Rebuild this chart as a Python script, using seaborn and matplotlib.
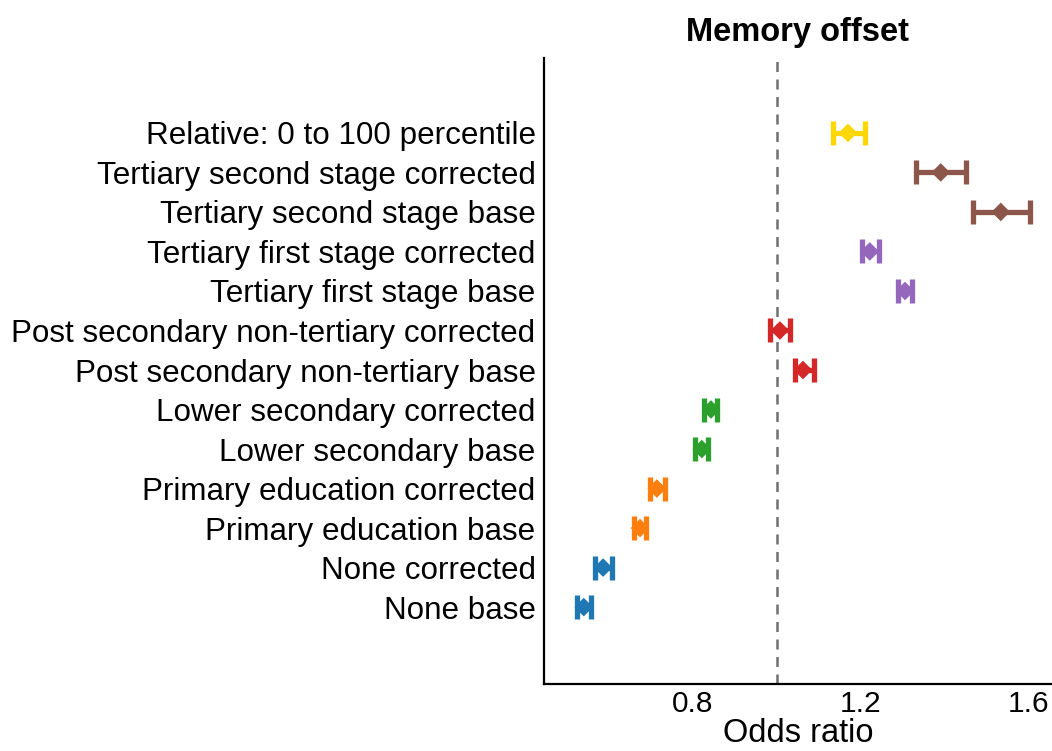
import numpy as np
import pandas as pd
import matplotlib
matplotlib.use("Agg")
import matplotlib.pyplot as plt
import seaborn as sns

labels = [
    "None base",
    "None corrected",
    "Primary education base",
    "Primary education corrected",
    "Lower secondary base",
    "Lower secondary corrected",
    "Post secondary non-tertiary base",
    "Post secondary non-tertiary corrected",
    "Tertiary first stage base",
    "Tertiary first stage corrected",
    "Tertiary second stage base",
    "Tertiary second stage corrected",
    "Relative: 0 to 100 percentile",
]
estimate = [0.540, 0.586, 0.674, 0.714, 0.821, 0.843, 1.062, 1.007, 1.305, 1.221, 1.533, 1.390, 1.169]
lower    = [0.524, 0.567, 0.660, 0.698, 0.805, 0.826, 1.043, 0.983, 1.288, 1.202, 1.467, 1.330, 1.134]
upper    = [0.557, 0.607, 0.688, 0.733, 0.836, 0.857, 1.088, 1.031, 1.321, 1.243, 1.602, 1.450, 1.210]
groups = ["None", "None", "Primary", "Primary", "Lower", "Lower", "Post", "Post",
          "T1", "T1", "T2", "T2", "Relative"]
palette = {"None": "#1f77b4", "Primary": "#ff7f0e", "Lower": "#2ca02c", "Post": "#d62728",
           "T1": "#9467bd", "T2": "#8c564b", "Relative": "#FFD700"}

df = pd.DataFrame({"label": labels, "est": estimate, "lo": lower, "hi": upper, "group": groups})
df["pos"] = np.arange(len(df))

sns.set_theme(style="white")
plt.rcParams["font.family"] = ["Liberation Sans", "DejaVu Sans"]
plt.rcParams["text.color"] = "black"
plt.rcParams["xtick.color"] = "black"
plt.rcParams["ytick.color"] = "black"
plt.rcParams["axes.labelcolor"] = "black"

fig = plt.figure(figsize=(10.52, 7.51), dpi=100)
ax = fig.add_axes([0.517, 0.089, 0.483, 0.834])

ax.axvline(1.0, color="#707070", linestyle=(0, (4, 3)), linewidth=1.8, zorder=1)

for _, r in df.iterrows():
    c = palette[r["group"]]
    ax.errorbar(r["est"], r["pos"], xerr=[[r["est"] - r["lo"]], [r["hi"] - r["est"]]],
                fmt="none", ecolor=c, elinewidth=3.8, capsize=8.5, capthick=3.8, zorder=2)

sns.scatterplot(data=df, x="est", y="pos", hue="group", palette=palette, marker="D",
                s=90, edgecolor="none", legend=False, ax=ax, zorder=3)

ax.set_xlim(0.445, 1.655)
ax.set_ylim(-1.95, 13.9)
ax.set_xticks([0.8, 1.2, 1.6])
ax.set_xticklabels(["0.8", "1.2", "1.6"], fontsize=21.5, color="black")
ax.set_yticks(df["pos"])
ax.set_yticklabels(df["label"], fontsize=22.6, color="black")
ax.tick_params(axis="y", length=0, pad=6)
ax.tick_params(axis="x", length=0, pad=4)
ax.set_xlabel("Odds ratio", fontsize=23.5, labelpad=0, color="black")
ax.set_ylabel("")
ax.set_title("Memory offset", fontsize=23.5, fontweight="bold", pad=12, color="black")

for s in ["top", "right"]:
    ax.spines[s].set_visible(False)
for s in ["left", "bottom"]:
    ax.spines[s].set_color("black")
    ax.spines[s].set_linewidth(1.6)

fig.savefig("out.png", dpi=100)
